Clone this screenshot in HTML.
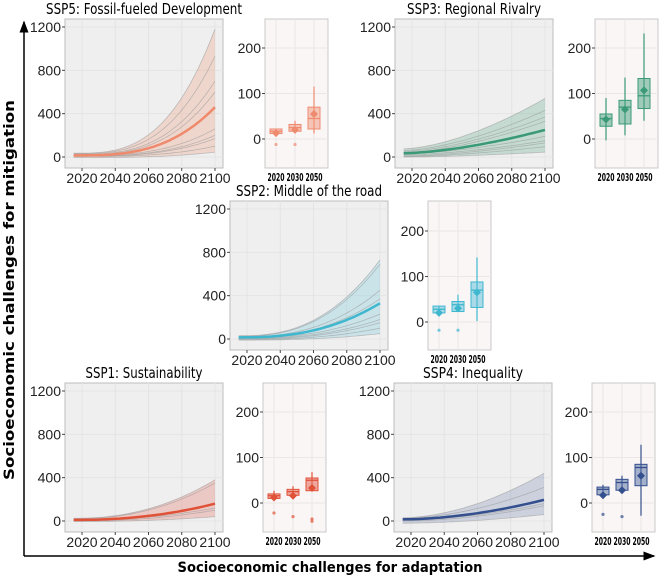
<!DOCTYPE html>
<html><head><meta charset="utf-8"><style>
body{margin:0;background:#fff;}
svg{display:block;font-family:"Liberation Sans",sans-serif;}
</style></head><body>
<svg id="s" width="661" height="579" viewBox="0 0 661 579" xmlns="http://www.w3.org/2000/svg">
<defs><marker id="ar" markerWidth="8" markerHeight="8" refX="7" refY="4" orient="auto"><path d="M0,1 L8,4 L0,7 z" fill="#000"/></marker></defs>
<line x1="24" y1="556" x2="24" y2="22" stroke="#000" stroke-width="1.5" marker-end="url(#ar)"/>
<line x1="24" y1="556" x2="654" y2="556" stroke="#000" stroke-width="1.5" marker-end="url(#ar)"/>
<text x="14" y="290" transform="rotate(-90 14 290)" text-anchor="middle" font-size="14" font-weight="bold" font-family="DejaVu Sans, sans-serif" textLength="380" lengthAdjust="spacingAndGlyphs">Socioeconomic challenges for mitigation</text>
<text x="330" y="572" text-anchor="middle" font-size="14" font-weight="bold" font-family="DejaVu Sans, sans-serif" textLength="305" lengthAdjust="spacingAndGlyphs">Socioeconomic challenges for adaptation</text>
<g id="g"></g>
</svg>
<script>
var g=document.getElementById('g'),h='';
function T(x,y,t,o){h+='<text x="'+x+'" y="'+y+'" '+(o||'')+'>'+t+'</text>';}
function main(c){
 var x0=c.x,y0=c.y,x1=c.x+158,y1=c.y+149;
 var yz=c.y+138,yt=c.y+8,sy=(yz-yt)/1200;
 var X=function(t){return x0+17+(t-2020)*(x1-8-x0-17)/80;},Y=function(v){return yz-v*sy;};
 h+='<rect x="'+x0+'" y="'+y0+'" width="158" height="149" fill="#efefef" stroke="#bdbdbd"/>';
 [2020,2040,2060,2080,2100].forEach(function(t){h+='<line x1="'+X(t)+'" x2="'+X(t)+'" y1="'+y0+'" y2="'+y1+'" stroke="#e4e4e4"/>';T(X(t),y1+15,t,'font-size="14" text-anchor="middle" fill="#222"');h+='<line x1="'+X(t)+'" x2="'+X(t)+'" y1="'+y1+'" y2="'+(y1+3)+'" stroke="#444"/>';});
 [0,400,800,1200].forEach(function(v){h+='<line x1="'+x0+'" x2="'+x1+'" y1="'+Y(v)+'" y2="'+Y(v)+'" stroke="#e4e4e4"/>';T(x0-4,Y(v)+5,v,'font-size="14" text-anchor="end" fill="#222"');h+='<line x1="'+(x0-3)+'" x2="'+x0+'" y1="'+Y(v)+'" y2="'+Y(v)+'" stroke="#444"/>';});
 T((x0+x1)/2,y0-5,c.t,'font-size="15" text-anchor="middle" font-family="DejaVu Sans Condensed, DejaVu Sans, sans-serif" textLength="'+c.tl+'" lengthAdjust="spacingAndGlyphs"');
 function path(s,e,p){var d='';for(var t=2015;t<=2100;t+=2.5){var u=(t-2015)/85,v=s+(e-s)*Math.pow(u,p);d+=(d?'L':'M')+X(t).toFixed(1)+','+Y(v).toFixed(1);}return d;}
 function pts(s,e,p,rev){var a=[];for(var t=2015;t<=2100;t+=2.5){var u=(t-2015)/85;a.push(X(t).toFixed(1)+','+Y(s+(e-s)*Math.pow(u,p)).toFixed(1));}if(rev)a.reverse();return a;}
 var L=c.lines,hi=L[0],lo=L[L.length-1];
 var poly=pts(hi[0],hi[1],c.p).concat(pts(lo[0],lo[1],c.p*0.9,1));
 h+='<polygon points="'+poly.join(' ')+'" fill="'+c.f+'"/>';
 L.forEach(function(l){h+='<path d="'+path(l[0],l[1],c.p)+'" fill="none" stroke="#999" stroke-opacity="0.6" stroke-width="0.8"/>';});
 h+='<path d="'+path(c.c[0],c.c[1],c.p)+'" fill="none" stroke="'+c.col+'" stroke-width="2.5"/>';
}
function box(c){
 var x0=c.x,y0=c.y,w=63,y1=c.y+149,yz=c.y+c.z,s=c.s;
 var Y=function(v){return yz-v*s;};
 h+='<rect x="'+x0+'" y="'+y0+'" width="'+w+'" height="149" fill="#faf6f6" stroke="#c8c8c8"/>';
 var xs=[x0+11,x0+30,x0+49];
 xs.forEach(function(x){h+='<line x1="'+x+'" x2="'+x+'" y1="'+y0+'" y2="'+y1+'" stroke="#ece6e6"/>';});
 [0,100,200].forEach(function(v){h+='<line x1="'+x0+'" x2="'+(x0+w)+'" y1="'+Y(v)+'" y2="'+Y(v)+'" stroke="#ece6e6"/>';T(x0-4,Y(v)+5,v,'font-size="14" text-anchor="end" fill="#222"');h+='<line x1="'+(x0-3)+'" x2="'+x0+'" y1="'+Y(v)+'" y2="'+Y(v)+'" stroke="#444"/>';});
 ['2020','2030','2050'].forEach(function(t,i){T(xs[i],y1+13,t,'font-size="10.5" font-weight="bold" text-anchor="middle" textLength="17" lengthAdjust="spacingAndGlyphs" font-family="DejaVu Sans Condensed, DejaVu Sans, sans-serif"');});
 c.b.forEach(function(b,i){var x=xs[i];
  h+='<line x1="'+x+'" x2="'+x+'" y1="'+Y(b[0])+'" y2="'+Y(b[4])+'" stroke="'+c.col+'" stroke-width="1.2"/>';
  h+='<rect x="'+(x-6)+'" y="'+Y(b[3])+'" width="12" height="'+(Y(b[1])-Y(b[3]))+'" fill="'+c.f+'" stroke="'+c.col+'"/>';
  h+='<line x1="'+(x-6)+'" x2="'+(x+6)+'" y1="'+Y(b[2])+'" y2="'+Y(b[2])+'" stroke="'+c.col+'" stroke-width="1.3"/>';
  h+='<polygon points="'+x+','+(Y(b[5])-4)+' '+(x+4)+','+Y(b[5])+' '+x+','+(Y(b[5])+4)+' '+(x-4)+','+Y(b[5])+'" fill="'+c.col+'"/>';
  (b[6]||[]).forEach(function(o){h+='<circle cx="'+x+'" cy="'+Y(o)+'" r="1.6" fill="'+c.col+'" opacity="0.7"/>';});
 });
}
main({x:65,y:19,tl:196,t:'SSP5: Fossil-fueled Development',p:3,col:'#ef8a6c',f:'rgba(240,150,120,0.28)',c:[15,460],lines:[[35,1180],[30,930],[25,700],[20,600],[15,260],[10,200],[8,170],[5,100],[-5,45]]});
main({x:395,y:19,tl:134,t:'SSP3: Regional Rivalry',p:1.6,col:'#3a9a78',f:'rgba(70,160,125,0.25)',c:[35,250],lines:[[75,540],[60,430],[50,370],[40,330],[30,190],[20,150],[10,130],[5,95],[0,45]]});
main({x:230,y:201,tl:146,t:'SSP2: Middle of the road',p:2.5,col:'#3fb7cf',f:'rgba(90,190,215,0.25)',c:[15,330],lines:[[30,730],[25,690],[20,450],[15,370],[10,230],[5,180],[0,150],[-5,100],[-10,50]]});
main({x:65,y:383,tl:117,t:'SSP1: Sustainability',p:2.2,col:'#e05238',f:'rgba(230,110,95,0.3)',c:[10,160],lines:[[25,380],[20,350],[10,120],[0,100],[-5,40]]});
main({x:394,y:383,tl:100,t:'SSP4: Inequality',p:1.8,col:'#344f8e',f:'rgba(80,105,160,0.22)',c:[15,195],lines:[[30,440],[25,310],[10,160],[0,140],[-20,60]]});
box({x:265,y:19,z:120,s:0.455,col:'#ee8a70',f:'rgba(240,150,120,0.5)',b:[[12,12,17,22,22,13,[-12]],[17,17,25,32,40,20,[-12]],[12,22,45,70,115,55,[]]]});
box({x:595,y:19,z:120,s:0.455,col:'#3a9a78',f:'rgba(70,160,125,0.5)',b:[[-3,28,45,55,90,43,[]],[8,33,70,85,135,65,[]],[40,67,95,133,232,107,[]]]});
box({x:428,y:201,z:121,s:0.455,col:'#3fb7cf',f:'rgba(90,190,215,0.5)',b:[[20,20,28,35,35,20,[-18]],[23,23,38,45,60,30,[-18]],[2,32,70,88,142,65,[]]]});
box({x:263,y:383,z:120,s:0.455,col:'#e05238',f:'rgba(230,100,85,0.55)',b:[[10,10,16,20,27,12,[-22]],[17,17,25,30,37,16,[-30]],[27,27,50,55,68,33,[-35,-40]]]});
box({x:592,y:383,z:120,s:0.455,col:'#344f8e',f:'rgba(80,105,160,0.5)',b:[[18,18,30,35,40,17,[-25]],[28,28,45,52,60,28,[-30]],[-28,38,78,85,128,60,[]]]});
g.innerHTML=h;
</script>
</body></html>
